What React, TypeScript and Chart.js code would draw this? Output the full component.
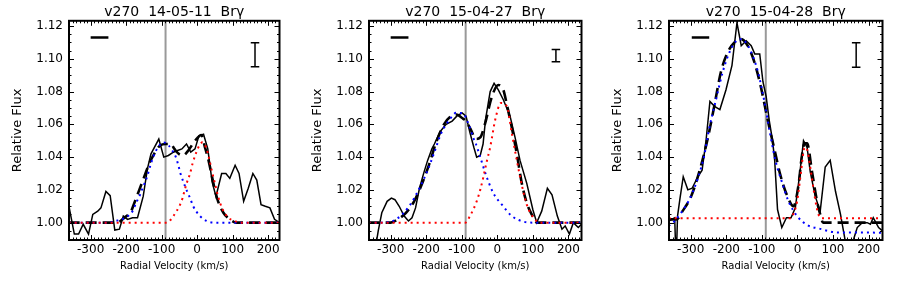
import { useEffect, useRef } from "react";
import { Chart, registerables } from "chart.js";

Chart.register(...registerables);

type P = [number, number];

const titles = ["v270  14-05-11  Brγ", "v270  15-04-27  Brγ", "v270  15-04-28  Brγ"];
const xTickValues = [-300, -200, -100, 0, 100, 200];
const yTickValues = [1.0, 1.02, 1.04, 1.06, 1.08, 1.1, 1.12];
const xMin = -361;
const xMaxes = [232, 237, 239];
const yMin = 0.9894;
const yMax = 1.1232;
const restVelocity = -89;

// ---- Panel 1 (14-05-11)
const obs1: P[] = [
  [-362, 1.011], [-346, 0.993], [-334, 0.993], [-321, 0.999], [-306, 0.993], [-294, 1.005], [-280, 1.007],
  [-271, 1.009], [-257, 1.019], [-245, 1.0165], [-232, 0.9955], [-219, 0.996], [-208, 1.004], [-196, 1.002],
  [-182, 1.003], [-168, 1.003], [-152, 1.016], [-140, 1.033], [-130, 1.042], [-108, 1.051], [-94, 1.040],
  [-81, 1.041], [-67, 1.043], [-55, 1.044], [-43, 1.045], [-30, 1.048], [-18, 1.043], [-6, 1.045], [5, 1.053],
  [18, 1.054], [30, 1.045], [42, 1.025], [53, 1.016], [69, 1.030], [81, 1.030], [92, 1.027], [107, 1.035],
  [118, 1.030], [131, 1.013], [144, 1.021], [157, 1.030], [168, 1.026], [180, 1.011], [192, 1.010],
  [205, 1.009], [218, 1.002], [232, 1.000],
];
const fit1: P[] = [
  [-362, 1.0], [-225, 1.0], [-205, 1.003], [-186, 1.007], [-177, 1.012], [-163, 1.02], [-149, 1.028],
  [-135, 1.036], [-121, 1.042], [-105, 1.047], [-88, 1.048], [-74, 1.048], [-64, 1.045], [-52, 1.042],
  [-40, 1.041], [-25, 1.044], [-6, 1.05], [12, 1.0535], [22, 1.046], [31, 1.039], [41, 1.029], [50, 1.02],
  [59, 1.013], [74, 1.006], [92, 1.002], [110, 1.0], [232, 1.0],
];
const blue1: P[] = [
  [-362, 1.0], [-250, 1.0], [-230, 1.001], [-212, 1.002], [-195, 1.004], [-182, 1.007], [-172, 1.012],
  [-161, 1.017], [-152, 1.022], [-141, 1.028], [-133, 1.034], [-124, 1.04], [-110, 1.046], [-95, 1.049],
  [-80, 1.047], [-70, 1.044], [-60, 1.04], [-53, 1.035], [-47, 1.03], [-39, 1.025], [-30, 1.02],
  [-20, 1.015], [-11, 1.01], [8, 1.004], [27, 1.001], [45, 1.0], [232, 1.0],
];
const red1: P[] = [
  [-362, 1.0], [-85, 1.0], [-67, 1.004], [-58, 1.007], [-48, 1.011], [-41, 1.015], [-35, 1.02], [-28, 1.025],
  [-20, 1.03], [-13, 1.036], [-4, 1.042], [6, 1.047], [15, 1.049], [25, 1.046], [34, 1.039], [41, 1.032],
  [50, 1.024], [59, 1.016], [72, 1.008], [88, 1.003], [106, 1.001], [120, 1.0], [232, 1.0],
];

// ---- Panel 2 (15-04-27)
const obs2: P[] = [
  [-350, 0.975], [-335, 0.995], [-325, 1.006], [-310, 1.013], [-298, 1.015], [-288, 1.014], [-276, 1.01],
  [-262, 1.004], [-250, 1.001], [-240, 1.003], [-230, 1.009], [-219, 1.021], [-206, 1.031], [-196, 1.038],
  [-184, 1.045], [-177, 1.048], [-161, 1.0555], [-144, 1.06], [-127, 1.062], [-114, 1.065], [-99, 1.067],
  [-88, 1.065], [-77, 1.055], [-66, 1.046], [-58, 1.04], [-48, 1.041], [-40, 1.048], [-33, 1.063],
  [-20, 1.08], [-9, 1.085], [3, 1.081], [17, 1.075], [36, 1.065], [50, 1.052], [64, 1.038], [83, 1.024],
  [100, 1.008], [111, 1.0], [125, 1.007], [141, 1.021], [154, 1.017], [169, 1.004], [182, 0.996],
  [191, 0.998], [203, 0.993], [214, 1.0], [228, 0.997], [237, 0.999],
];
const fit2: P[] = [
  [-362, 1.0], [-300, 1.0], [-280, 1.002], [-257, 1.006], [-234, 1.013], [-215, 1.022], [-191, 1.036],
  [-172, 1.049], [-150, 1.06], [-130, 1.065], [-115, 1.066], [-100, 1.064], [-88, 1.062], [-75, 1.057],
  [-60, 1.051], [-48, 1.052], [-35, 1.06], [-15, 1.077], [3, 1.084], [17, 1.081], [27, 1.072], [41, 1.058],
  [55, 1.042], [69, 1.024], [83, 1.012], [97, 1.005], [111, 1.0], [237, 1.0],
];
const blue2: P[] = [
  [-362, 1.0], [-330, 1.0], [-285, 1.002], [-248, 1.01], [-219, 1.021], [-196, 1.032], [-177, 1.043],
  [-158, 1.0545], [-135, 1.0626], [-116, 1.067], [-97, 1.0667], [-78, 1.0585], [-67, 1.0515], [-60, 1.048],
  [-48, 1.04], [-30, 1.028], [-11, 1.018], [13, 1.011], [41, 1.004], [74, 1.0006], [100, 1.0], [237, 1.0],
];
const red2: P[] = [
  [-362, 1.0], [-90, 1.0], [-77, 1.004], [-58, 1.013], [-48, 1.02], [-39, 1.028], [-30, 1.037], [-20, 1.046],
  [-6, 1.0626], [10, 1.073], [27, 1.071], [41, 1.0545], [55, 1.038], [69, 1.023], [83, 1.011], [102, 1.003],
  [120, 1.0], [237, 1.0],
];

// ---- Panel 3 (15-04-28)
const obs3: P[] = [
  [-362, 1.001], [-345, 1.003], [-341, 0.975], [-337, 1.004], [-330, 1.015], [-321, 1.028], [-308, 1.02],
  [-296, 1.021], [-280, 1.028], [-268, 1.032], [-257, 1.05], [-246, 1.074], [-233, 1.071], [-218, 1.069],
  [-201, 1.081], [-184, 1.096], [-170, 1.122], [-158, 1.108], [-144, 1.111], [-130, 1.108], [-120, 1.103],
  [-106, 1.103], [-97, 1.086], [-88, 1.077], [-79, 1.062], [-70, 1.05], [-64, 1.038], [-56, 1.008],
  [-44, 0.997], [-31, 1.003], [-18, 1.003], [-6, 1.009], [6, 1.029], [17, 1.05], [27, 1.046], [36, 1.031],
  [50, 1.016], [64, 1.007], [78, 1.034], [92, 1.038], [107, 1.019], [121, 1.005], [135, 0.988],
  [148, 0.985], [158, 0.99], [168, 0.997], [182, 1.0], [196, 1.0], [205, 0.999], [213, 1.003],
  [228, 0.997], [239, 0.995],
];
const fit3: P[] = [
  [-362, 1.002], [-340, 1.002], [-323, 1.007], [-299, 1.016], [-276, 1.031], [-252, 1.0515], [-233, 1.072],
  [-215, 1.092], [-196, 1.104], [-177, 1.11], [-158, 1.112], [-140, 1.108], [-121, 1.098], [-102, 1.082],
  [-83, 1.062], [-65, 1.045], [-48, 1.029], [-30, 1.017], [-11, 1.01], [3, 1.023], [12, 1.04], [20, 1.0484],
  [27, 1.0484], [41, 1.031], [55, 1.013], [64, 1.005], [72, 1.0], [239, 1.0],
];
const blue3: P[] = [
  [-362, 0.998], [-345, 1.001], [-327, 1.006], [-304, 1.014], [-280, 1.027], [-262, 1.041], [-248, 1.0575],
  [-229, 1.075], [-210, 1.092], [-191, 1.104], [-172, 1.111], [-160, 1.112], [-149, 1.111], [-130, 1.104],
  [-111, 1.092], [-93, 1.074], [-77, 1.0545], [-62, 1.038], [-44, 1.025], [-25, 1.013], [-1, 1.004],
  [27, 0.9986], [64, 0.9962], [111, 0.994], [239, 0.9939],
];
const red3: P[] = [
  [-362, 1.0027], [-20, 1.0027], [-10, 1.006], [-1, 1.013], [10, 1.031], [19, 1.0453], [24, 1.046],
  [29, 1.043], [38, 1.031], [50, 1.014], [59, 1.005], [68, 1.0027], [239, 1.0027],
];

// resolution bars [vStart, vEnd, flux]
const resBars: [number, number, number][] = [
  [-300, -250, 1.113],
  [-300, -250, 1.113],
  [-297, -248, 1.113],
];
// error bars [v, low, high]
const errBars: [number, number, number][] = [
  [163, 1.0951, 1.1098],
  [165, 1.0982, 1.1057],
  [165, 1.0948, 1.1098],
];
const capHalf = 12;

const observed = [obs1, obs2, obs3];
const fits = [fit1, fit2, fit3];
const blues = [blue1, blue2, blue3];
const reds = [red1, red2, red3];
const rightPads = [20.5, 18.5, 17.5];

const FONT = "'DejaVu Sans', sans-serif";

const toXY = (a: P[]) => a.map(([x, y]) => ({ x, y }));

const boxTicks = {
  id: "boxTicks",
  afterDraw(chart: any) {
    const { ctx, chartArea, scales } = chart;
    const { left, right, top, bottom } = chartArea;
    const xs = scales.x;
    const ys = scales.y;
    ctx.save();
    ctx.strokeStyle = "#000";
    ctx.lineWidth = 1;
    ctx.beginPath();
    const k0 = Math.ceil(xs.min / 10);
    const k1 = Math.floor(xs.max / 10);
    for (let k = k0; k <= k1; k++) {
      const px = Math.round(xs.getPixelForValue(k * 10)) + 0.5;
      const len = k % 10 === 0 ? 5 : 2.5;
      ctx.moveTo(px, bottom);
      ctx.lineTo(px, bottom - len);
      ctx.moveTo(px, top);
      ctx.lineTo(px, top + len);
    }
    const j0 = Math.ceil(ys.min / 0.005 - 1e-6);
    const j1 = Math.floor(ys.max / 0.005 + 1e-6);
    for (let j = j0; j <= j1; j++) {
      const py = Math.round(ys.getPixelForValue(j * 0.005)) + 0.5;
      const len = j % 4 === 0 ? 5 : 2.5;
      ctx.moveTo(left, py);
      ctx.lineTo(left + len, py);
      ctx.moveTo(right, py);
      ctx.lineTo(right - len, py);
    }
    ctx.stroke();
    ctx.lineWidth = 2;
    ctx.strokeRect(left, top, right - left, bottom - top);
    ctx.restore();
  },
};

function Panel({ idx }: { idx: number }) {
  const ref = useRef<HTMLCanvasElement | null>(null);
  useEffect(() => {
    if (!ref.current) return;
    const [r0, r1, rf] = resBars[idx];
    const [ev, elo, ehi] = errBars[idx];
    const errPts: any[] = [
      { x: ev - capHalf, y: ehi }, { x: ev + capHalf, y: ehi }, { x: ev, y: null },
      { x: ev, y: ehi }, { x: ev, y: elo }, { x: ev, y: null },
      { x: ev - capHalf, y: elo }, { x: ev + capHalf, y: elo },
    ];
    const chart = new Chart(ref.current, {
      type: "line",
      data: {
        datasets: [
          {
            data: [{ x: restVelocity, y: 0.9 }, { x: restVelocity, y: 1.2 }],
            borderColor: "#999999", borderWidth: 2, order: 10,
          },
          {
            data: toXY(observed[idx]), borderColor: "#000", borderWidth: 1.5, order: 5,
          },
          {
            data: toXY(fits[idx]), borderColor: "#000", borderWidth: 2.6, borderDash: [11, 6],
            cubicInterpolationMode: "monotone", order: 4,
          },
          {
            data: toXY(blues[idx]), borderColor: "#0000ff", borderWidth: 2, borderDash: [2, 4],
            cubicInterpolationMode: "monotone", order: 3,
          },
          {
            data: toXY(reds[idx]), borderColor: "#ff0000", borderWidth: 2, borderDash: [2, 4],
            cubicInterpolationMode: "monotone", order: 2,
          },
          {
            data: [{ x: r0, y: rf }, { x: r1, y: rf }], borderColor: "#000", borderWidth: 2.5, order: 1,
          },
          {
            data: errPts, borderColor: "#000", borderWidth: 1.5, spanGaps: false, order: 1,
          },
        ] as any,
      },
      options: {
        responsive: false,
        animation: false,
        datasets: { line: { pointRadius: 0, tension: 0, clip: 0 as any, fill: false } },
        layout: { padding: { left: 0, right: rightPads[idx], top: 0, bottom: 0 } },
        plugins: {
          legend: { display: false },
          tooltip: { enabled: false },
          title: {
            display: true,
            text: titles[idx],
            fullSize: false,
            color: "#000",
            font: { family: FONT, size: 14, weight: "normal" as any },
            padding: { top: 4, bottom: 0 },
          },
        },
        scales: {
          x: {
            type: "linear",
            min: xMin,
            max: xMaxes[idx],
            afterFit: (s: any) => { s.height = 44; },
            afterBuildTicks: (s: any) => { s.ticks = xTickValues.map((value) => ({ value })); },
            grid: { display: false, drawTicks: false },
            border: { display: false },
            ticks: {
              autoSkip: false, maxRotation: 0, minRotation: 0,
              color: "#000", padding: 3, font: { family: FONT, size: 12 },
              callback: (v: any) => String(v),
            },
            title: {
              display: true, text: "Radial Velocity (km/s)", color: "#000",
              font: { family: FONT, size: 10 }, padding: { top: 0, bottom: 12 },
            },
          },
          y: {
            type: "linear",
            min: yMin,
            max: yMax,
            afterFit: (s: any) => { s.width = 69; },
            afterBuildTicks: (s: any) => { s.ticks = yTickValues.map((value) => ({ value })); },
            grid: { display: false, drawTicks: false },
            border: { display: false },
            ticks: {
              autoSkip: false,
              color: "#000", padding: 6, font: { family: FONT, size: 12 },
              callback: (v: any) => Number(v).toFixed(2),
            },
            title: {
              display: true, text: "Relative Flux", color: "#000",
              font: { family: FONT, size: 13 }, padding: { top: 10, bottom: 0 },
            },
          },
        },
      },
      plugins: [boxTicks],
    });
    return () => chart.destroy();
  }, [idx]);
  return (
    <div style={{ width: 300, height: 284 }}>
      <canvas ref={ref} width={300} height={284} style={{ width: 300, height: 284, display: "block" }} />
    </div>
  );
}

export default function App() {
  return (
    <div style={{ position: "fixed", left: 0, top: 0, width: 900, height: 284, display: "flex", background: "#fff" }}>
      <Panel idx={0} />
      <Panel idx={1} />
      <Panel idx={2} />
    </div>
  );
}
